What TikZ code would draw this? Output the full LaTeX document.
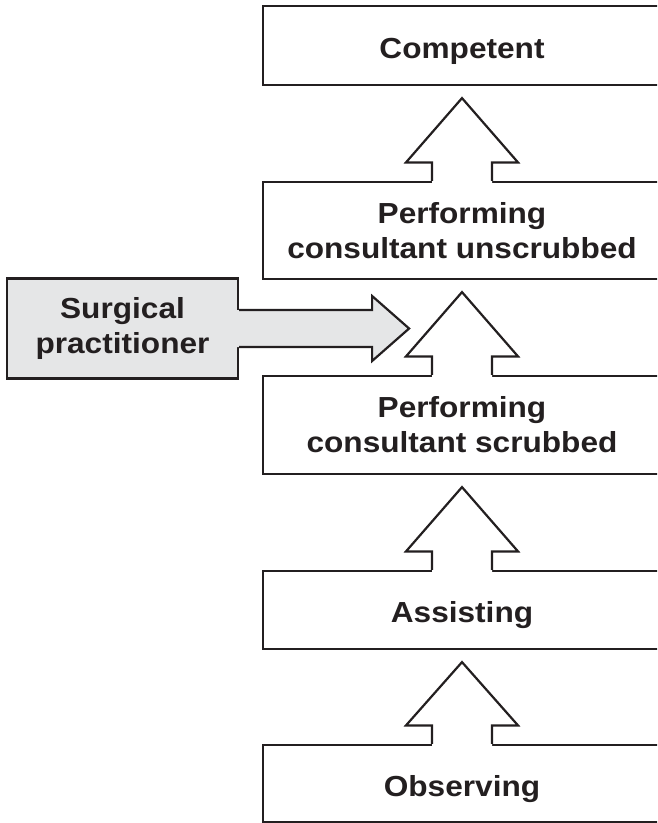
\documentclass[tikz,border=0pt]{standalone}
\usepackage{fontspec}
\setmainfont{Liberation Sans}[FakeStretch=1.09]
\usetikzlibrary{calc}
\definecolor{ink}{HTML}{231F20}
\definecolor{spgray}{HTML}{E5E6E7}
\tikzset{
  stage/.style={draw=ink, line width=2.2pt, fill=white, minimum width=398pt, inner sep=0pt,
    align=center, text=ink, font=\bfseries\fontsize{29}{35}\selectfont},
  oneline/.style={text height=25.5pt, text depth=0pt},
  sidebox/.style={draw=ink, line width=2.2pt, fill=spgray, minimum width=231pt, minimum height=100pt,
    inner sep=0pt, align=center, text=ink, font=\bfseries\fontsize{29}{34.5}\selectfont},
  blockline/.style={draw=ink, line width=2.2pt, line join=miter},
}
% up block arrow from lower node #1 to upper node #2
\newcommand\UpBlock[2]{%
  \fill[white] ([xshift=-30pt,yshift=-3pt]#1.north) -- ([xshift=-30pt,yshift=18.5pt]#1.north)
    -- ([xshift=-56pt,yshift=18.5pt]#1.north) -- ([yshift=-12pt]#2.south)
    -- ([xshift=56pt,yshift=18.5pt]#1.north) -- ([xshift=30pt,yshift=18.5pt]#1.north)
    -- ([xshift=30pt,yshift=-3pt]#1.north) -- cycle;
  \draw[blockline] ([xshift=-30pt]#1.north) -- ([xshift=-30pt,yshift=18.5pt]#1.north)
    -- ([xshift=-56pt,yshift=18.5pt]#1.north) -- ([yshift=-12pt]#2.south)
    -- ([xshift=56pt,yshift=18.5pt]#1.north) -- ([xshift=30pt,yshift=18.5pt]#1.north)
    -- ([xshift=30pt]#1.north);
}
\begin{document}
\begin{tikzpicture}[x=1pt,y=-1pt]
\useasboundingbox (0,0) rectangle (657,823);
\clip (0,0) rectangle (657,823);
\node[stage, oneline, minimum height=79pt] (comp) at (462,45.5) {Competent};
\node[stage, minimum height=97pt] (unscr) at (462,230.5) {Performing\\consultant unscrubbed};
\node[stage, minimum height=98pt] (scr) at (462,425) {Performing\\consultant scrubbed};
\node[stage, oneline, minimum height=78pt] (assist) at (462,610) {Assisting};
\node[stage, oneline, minimum height=77pt] (obs) at (462,783.5) {Observing};
\node[sidebox] (sp) at (122.5,328.5) {Surgical\\practitioner};
\coordinate (sptip) at ([xshift=170pt]sp.east);
\UpBlock{unscr}{comp}
\UpBlock{scr}{unscr}
\UpBlock{assist}{scr}
\UpBlock{obs}{assist}
% side block arrow
\fill[spgray] ([xshift=-3pt,yshift=18.5pt]sp.east) -- ([xshift=133pt,yshift=18.5pt]sp.east)
  -- ([xshift=133pt,yshift=32.5pt]sp.east) -- (sptip) -- ([xshift=133pt,yshift=-32.5pt]sp.east)
  -- ([xshift=133pt,yshift=-18.5pt]sp.east) -- ([xshift=-3pt,yshift=-18.5pt]sp.east) -- cycle;
\draw[blockline] ([yshift=18.5pt]sp.east) -- ([xshift=133pt,yshift=18.5pt]sp.east)
  -- ([xshift=133pt,yshift=32.5pt]sp.east) -- (sptip) -- ([xshift=133pt,yshift=-32.5pt]sp.east)
  -- ([xshift=133pt,yshift=-18.5pt]sp.east) -- ([yshift=-18.5pt]sp.east);
\end{tikzpicture}
\end{document}
